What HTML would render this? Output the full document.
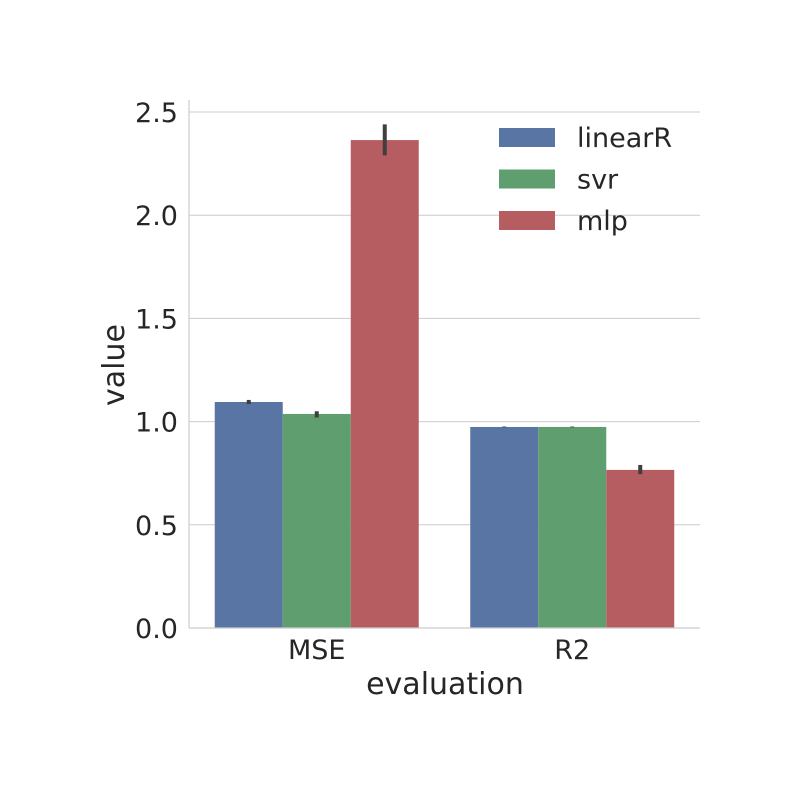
<!DOCTYPE html>
<html><head><meta charset="utf-8"><style>
body{margin:0;background:#fff;}
text{font-family:"DejaVu Sans",sans-serif;fill:#262626;}
</style></head><body>
<svg id="chart" width="800" height="800" xmlns="http://www.w3.org/2000/svg">
<g id="grid"></g><g id="bars"></g><g id="errs"></g><g id="axes"></g><g id="legend"></g>
</svg>
<script>
const categories = ["MSE", "R2"];
const seriesNames = ["linearR", "svr", "mlp"];
const linearR = [1.095, 0.974];
const svr = [1.037, 0.974];
const mlp = [2.364, 0.766];
const errLow = [[1.085, 0.972], [1.02, 0.972], [2.29, 0.745]];
const errHigh = [[1.105, 0.976], [1.05, 0.976], [2.44, 0.79]];
const yTicks = [0, 0.5, 1.0, 1.5, 2.0, 2.5];
const yTickLabels = ["0.0", "0.5", "1.0", "1.5", "2.0", "2.5"];
const colors = ["#5975a4", "#5f9e6e", "#b55d60"];
const series = [linearR, svr, mlp];

const NS = "http://www.w3.org/2000/svg";
const X0 = 189, X1 = 700, Y0 = 628, PPU = 206.4;
const y = v => Y0 - v * PPU;
const catW = (X1 - X0) / categories.length;
const cx = i => X0 + catW * (i + 0.5);
const barW = 68;
function mk(tag, attrs, parent, txt) {
  const e = document.createElementNS(NS, tag);
  for (const k in attrs) e.setAttribute(k, attrs[k]);
  if (txt !== undefined) e.textContent = txt;
  document.getElementById(parent).appendChild(e);
  return e;
}
yTicks.forEach((t, i) => {
  const g = mk("line", {x1: X0, x2: X1, y1: y(t), y2: y(t), stroke: "#cccccc", "stroke-width": 1}, "grid");
  
  
  const l = mk("text", {x: X0 - 11, y: y(t) + 10, "text-anchor": "end", "font-size": 27}, "axes", yTickLabels[i]);
  
  
});
categories.forEach((c, i) => {
  series.forEach((s, j) => {
    const x = cx(i) + (j - 1.5) * barW;
    const r = mk("rect", {x: x, y: y(s[i]), width: barW, height: Y0 - y(s[i]), fill: colors[j]}, "bars");
    
    
    const e = mk("line", {x1: x + barW / 2, x2: x + barW / 2, y1: y(errLow[j][i]), y2: y(errHigh[j][i]), stroke: "#3f3f3f", "stroke-width": 4}, "errs");
    
    
  });
  const t = mk("text", {x: cx(i), y: 659, "text-anchor": "middle", "font-size": 27}, "axes", c);
  
  
});
let a = mk("line", {x1: X0, x2: X0, y1: 100, y2: Y0, stroke: "#cccccc", "stroke-width": 1.2}, "axes");


a = mk("line", {x1: X0, x2: X1, y1: Y0, y2: Y0, stroke: "#cccccc", "stroke-width": 1.2}, "axes");


a = mk("text", {x: 445, y: 694, "text-anchor": "middle", "font-size": 30}, "axes", "evaluation");


a = mk("text", {x: 124, y: 365, "text-anchor": "middle", "font-size": 30, transform: "rotate(-90 124 365)"}, "axes", "value");


seriesNames.forEach((n, j) => {
  const yy = 128 + j * 41.5;
  const p = mk("rect", {x: 499, y: yy, width: 56, height: 19, fill: colors[j]}, "legend");
  
  
  const t = mk("text", {x: 577, y: yy + 19, "font-size": 27}, "legend", n);
  
  
});
</script>
</body></html>
